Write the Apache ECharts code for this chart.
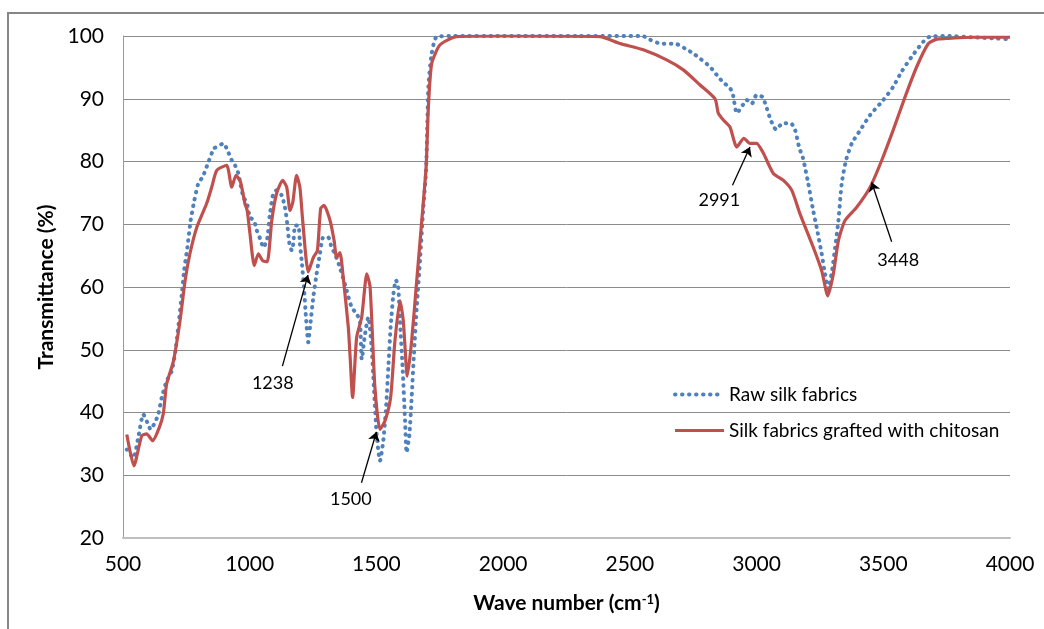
<!DOCTYPE html>
<html>
<head>
<meta charset="utf-8">
<script src="https://cdn.jsdelivr.net/npm/echarts@6/dist/echarts.min.js"></script>
<style>
  html, body { margin: 0; padding: 0; background: #fff; }
  #chart { width: 1044px; height: 629px; }
</style>
</head>
<body>
<div id="chart"></div>
<script>
// raw silk fabrics (dotted blue)
const rawWave = [515, 541, 560, 580, 596, 609, 626, 639, 653, 672, 692, 705, 718, 732, 741, 754, 767, 780, 797, 815,
  837, 859, 876, 896, 912, 929, 942, 955, 975, 988, 1001, 1017, 1028, 1041, 1054, 1069, 1080, 1093, 1106, 1126,
  1139, 1148, 1156, 1166, 1172, 1179, 1192, 1198, 1205, 1214, 1222, 1231, 1238, 1251, 1264, 1277, 1290, 1310, 1323, 1336,
  1356, 1383, 1402, 1422, 1435, 1442, 1455, 1468, 1481, 1490, 1501, 1514, 1527, 1538, 1547, 1556, 1567, 1577, 1586, 1593,
  1604, 1613, 1619, 1630, 1639, 1648, 1659, 1672, 1685, 1696, 1705, 1718, 1738, 1800, 2000, 2300, 2550, 2580, 2619, 2685,
  2718, 2751, 2777, 2816, 2849, 2871, 2892, 2906, 2922, 2941, 2961, 2981, 3000, 3023, 3036, 3056, 3077, 3103, 3135, 3152,
  3169, 3182, 3191, 3204, 3221, 3237, 3257, 3270, 3283, 3297, 3310, 3323, 3336, 3353, 3376, 3409, 3448, 3500, 3539, 3572,
  3612, 3658, 3684, 3750, 3850, 3950, 4000];
const rawT = [34.1, 32.8, 36, 39.7, 38.4, 37.3, 38.4, 39.7, 42.4, 45, 46.6, 49.3, 53.6, 58.9, 62.6, 66.3, 70.6, 73.5, 76.5, 77.6,
  79.9, 82.1, 82.4, 82.9, 81.8, 80.2, 79.4, 78.1, 74.3, 73.5, 71.1, 70.6, 69, 67.7, 66.3, 67.7, 71.7, 74.9, 75.4, 74.6,
  72.7, 70.1, 67.1, 65.8, 66.9, 69.8, 69.8, 66.9, 64.2, 60, 55.2, 51.2, 53.6, 58.4, 62.1, 65.3, 67.9, 67.9, 66.3, 65.3,
  63.1, 59.4, 56.8, 55.7, 54.6, 48.5, 52.5, 55.2, 50.4, 44, 36.5, 32.3, 35.5, 40.8, 47.2, 53.6, 58.9, 61.1, 60, 54.6,
  46.6, 38.7, 33.6, 36.5, 42.4, 49.3, 56.8, 64.2, 72.7, 78.6, 91.9, 97.2, 99.9, 100, 100, 100, 100, 99.4, 98.8, 98.7,
  98, 97.2, 96.4, 95.1, 93.5, 92.5, 91.9, 90.8, 87.7, 88.7, 89.8, 89.2, 90.6, 90.3, 89, 86.6, 85.1, 86.1, 86.1, 85,
  82.1, 80.7, 79.1, 76.5, 72.7, 69.5, 65.3, 62.1, 59.7, 62.4, 66.3, 70.6, 76.5, 80.2, 82.9, 85, 87.4, 89.8, 91.9, 94.3,
  96.7, 99.1, 99.9, 100, 99.8, 99.6, 99.5];

// silk fabrics grafted with chitosan (solid red)
const chitWave = [515, 543, 574, 593, 617, 643, 659, 672, 699, 725, 745, 764, 791, 830, 850, 870, 909, 929, 946, 964,
  981, 990, 1001, 1018, 1034, 1051, 1069, 1087, 1106, 1130, 1146, 1159, 1170, 1185, 1198, 1209, 1231, 1251, 1267, 1280,
  1293, 1317, 1333, 1343, 1356, 1369, 1389, 1396, 1406, 1422, 1442, 1462, 1475, 1494, 1514, 1534, 1556, 1573, 1593, 1606,
  1622, 1639, 1659, 1679, 1696, 1705, 1718, 1751, 1817, 2000, 2382, 2461, 2553, 2645, 2711, 2777, 2836, 2849, 2869, 2895,
  2922, 2950, 2974, 3000, 3027, 3066, 3106, 3139, 3171, 3224, 3257, 3281, 3303, 3323, 3349, 3395, 3448, 3494, 3539, 3586,
  3632, 3678, 3711, 3750, 3850, 4000];
const chitT = [36.5, 31.5, 36.3, 36.6, 35.5, 37.6, 39.8, 44.5, 48.2, 54.6, 61, 65.3, 69.5, 73.3, 75.9, 78.6, 79.4, 75.9, 77.8, 76.7,
  73.3, 72.2, 68.5, 63.4, 65.3, 64.2, 64, 70.6, 74.9, 77, 75.9, 72.2, 73.5, 77.8, 75.9, 70.6, 62.4, 64.7, 65.8, 72.5,
  73, 70.6, 67.4, 64.7, 65.5, 61.5, 53.6, 49, 42.4, 52, 55.2, 62.1, 60, 44, 37.3, 38.7, 42.4, 51.4, 57.8, 54.6,
  45.8, 51.4, 61, 70.6, 79.1, 88.7, 95.6, 98.6, 99.9, 100, 99.9, 98.8, 97.8, 96.2, 94.6, 92.2, 90, 87.7, 86.6, 85.5,
  82.3, 83.7, 82.9, 82.9, 81.3, 78.1, 77, 75.4, 71.7, 66.3, 62.6, 58.6, 62.1, 67.4, 70.6, 72.7, 75.9, 80.2, 85, 90.3,
  95.1, 98.8, 99.5, 99.6, 99.8, 99.8];

// peak annotations (data units)
const peakLabels = ['1238', '1500', '2991', '3448'];
const arrowTail = [[1129, 47.4], [1441, 28.8], [2905, 76.2], [3533, 67.2]];
const arrowTip = [[1230, 61.9], [1500, 36.9], [2974, 82.3], [3454, 76.7]];
const labelAt = [[1091, 44.7], [1399, 26.2], [2853, 73.8], [3559, 64.3]];

const FONT = 'Lato';
const rawLine = { color: '#4F81BD', width: 4, type: [0.5, 6.5], cap: 'round' };
const chitLine = { color: '#C0504D', width: 3.2 };

function pairs(xs, ys) {
  return xs.map((x, i) => [x, ys[i]]);
}

const chart = echarts.init(document.getElementById('chart'));

const option = {
  animation: false,
  textStyle: { fontFamily: FONT, color: '#000' },
  graphic: [{
    type: 'rect',
    shape: { x: 8, y: 13, width: 1100, height: 700 },
    style: { fill: 'none', stroke: '#868686', lineWidth: 2 },
    silent: true
  }],
  grid: { left: 123, right: 34, top: 36, bottom: 91 },
  legend: {
    orient: 'vertical',
    left: 673,
    top: 385,
    padding: 0,
    itemWidth: 49,
    itemHeight: 14,
    itemGap: 17,
    itemStyle: { opacity: 0 },
    textStyle: { fontFamily: FONT, fontSize: 19, color: '#000' },
    data: [
      { name: 'Raw silk fabrics', lineStyle: rawLine },
      { name: 'Silk fabrics grafted with chitosan', lineStyle: chitLine }
    ]
  },
  xAxis: {
    type: 'value',
    min: 500,
    max: 4000,
    interval: 500,
    name: 'Wave number (cm{sup|-1})',
    nameLocation: 'middle',
    nameGap: 55,
    nameTextStyle: {
      fontFamily: FONT, fontSize: 21, fontWeight: 'bold', color: '#000',
      rich: { sup: { fontFamily: FONT, fontSize: 13, fontWeight: 'bold', verticalAlign: 'top', lineHeight: 13 } }
    },
    axisLine: { lineStyle: { color: '#bfbfbf', width: 2 } },
    axisTick: { show: false },
    axisLabel: { fontFamily: FONT, fontSize: 21, color: '#000', margin: 16, formatter: v => String(v) },
    splitLine: { show: false }
  },
  yAxis: {
    type: 'value',
    min: 20,
    max: 100,
    interval: 10,
    name: 'Transmittance (%)',
    nameLocation: 'middle',
    nameGap: 62,
    nameTextStyle: { fontFamily: FONT, fontSize: 21, fontWeight: 'bold', color: '#000' },
    axisLine: { show: true, lineStyle: { color: '#9a9a9a', width: 1 } },
    axisTick: { show: false },
    axisLabel: { fontFamily: FONT, fontSize: 21, color: '#000', margin: 19 },
    splitLine: { lineStyle: { color: '#8c8c8c', width: 1 } }
  },
  series: [
    {
      name: 'Raw silk fabrics',
      type: 'line',
      data: pairs(rawWave, rawT),
      showSymbol: false,
      symbol: 'none',
      smooth: 0.2,
      color: '#4F81BD',
      lineStyle: rawLine,
      z: 2
    },
    {
      name: 'Silk fabrics grafted with chitosan',
      type: 'line',
      data: pairs(chitWave, chitT),
      showSymbol: false,
      symbol: 'none',
      smooth: 0.2,
      color: '#C0504D',
      lineStyle: chitLine,
      z: 3,
      markLine: {
        silent: true,
        symbol: ['none', 'arrow'],
        symbolSize: 9,
        lineStyle: { color: '#000', width: 1.3, type: 'solid' },
        label: { show: false },
        data: arrowTail.map((t, i) => [{ coord: t }, { coord: arrowTip[i] }])
      },
      markPoint: {
        silent: true,
        symbol: 'circle',
        symbolSize: 0,
        label: { show: true, position: 'inside', fontFamily: FONT, fontSize: 18, color: '#000' },
        data: labelAt.map((p, i) => ({ coord: p, value: peakLabels[i], label: { formatter: peakLabels[i] } }))
      }
    }
  ]
};

chart.setOption(option);
</script>
</body>
</html>
